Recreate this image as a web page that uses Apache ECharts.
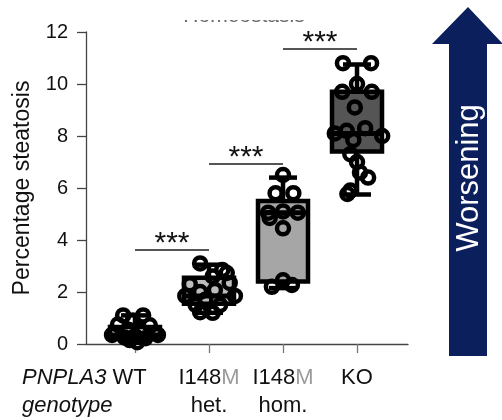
<!DOCTYPE html>
<html><head><meta charset="utf-8">
<script src="https://cdn.jsdelivr.net/npm/echarts@6/dist/echarts.min.js"></script>
<style>html,body{margin:0;padding:0;background:#fff}#c{width:502px;height:420px}</style>
</head><body><div id="c"></div>
<script>
// ---- data ----
const categories = ['WT', 'I148M het.', 'I148M hom.', 'KO'];
const labelLine2 = ['', 'het.', 'hom.', ''];
const yTicks = [0, 2, 4, 6, 8, 10, 12];
// [min, Q1, median, Q3, max]
const boxStats = [
  [0.05, 0.2, 0.35, 0.65, 1.1],
  [1.2, 1.55, 1.85, 2.55, 3.05],
  [2.15, 2.4, 5.05, 5.5, 6.4],
  [5.75, 7.4, 8.1, 9.7, 10.75]
];
const wtValues  = [1.1, 1.1, 0.9, 0.75, 0.72, 0.55, 0.52, 0.35, 0.35, 0.25, 0.3, 0.22, 0.07, 0.15];
const wtJitter  = [-0.16, 0.11, -0.03, -0.23, 0.2, -0.09, 0.07, -0.31, 0.31, -0.14, 0, 0.14, 0.03, -0.07];
const hetValues = [3.1, 2.85, 2.73, 2.6, 2.3, 2.35, 1.85, 1.85, 2.0, 2.08, 1.7, 1.5, 1.5, 1.22, 1.2];
const hetJitter = [-0.12, 0.18, 0.24, 0.05, -0.26, 0.28, -0.32, 0.35, -0.12, 0.08, -0.05, -0.18, 0.15, -0.12, 0.05];
const homValues = [6.5, 5.8, 5.8, 5.05, 5.05, 5.1, 4.85, 4.45, 2.2, 2.27, 2.45];
const homJitter = [0, -0.1, 0.14, -0.2, 0.2, 0, -0.18, 0, -0.15, 0.12, 0];
const koValues  = [10.8, 10.8, 10.0, 9.7, 9.7, 9.1, 8.2, 8.3, 8.1, 8.0, 7.85, 7.3, 7.0, 6.6, 6.4, 5.9, 5.77];
const koJitter  = [-0.19, 0.19, 0, -0.2, 0.2, -0.03, -0.14, 0.11, -0.3, 0.34, -0.05, -0.09, 0, 0.04, 0.15, -0.09, -0.13];
const sigPairs  = [[0, 1, 3.62], [1, 2, 6.92], [2, 3, 11.35]];
const sigLabels = ['***', '***', '***'];
const boxFill = ['#d8d8d8', '#bdbdbd', '#a6a6a6', '#555555'];

const groups = [[wtValues, wtJitter], [hetValues, hetJitter], [homValues, homJitter], [koValues, koJitter]];
const points = [];
groups.forEach((g, i) => g[0].forEach((v, k) => points.push([i + g[1][k], v])));

const FONT = 'Liberation Sans';
const chart = echarts.init(document.getElementById('c'));
chart.setOption({
  animation: false,
  textStyle: { fontFamily: FONT },
  grid: { left: 86, right: 94, top: 32, bottom: 76, containLabel: false },
  xAxis: {
    type: 'value', min: -0.662, max: 3.689,
    axisLine: { show: true, onZero: false, lineStyle: { color: '#444', width: 1.3 } },
    axisTick: { show: true, customValues: [0, 1, 2, 3], length: 9, lineStyle: { color: '#777', width: 1.3 } },
    splitLine: { show: false },
    axisLabel: {
      customValues: [1, 2, 3], margin: 20,
      formatter: v => v === 3 ? '{a|KO}\n{a| }' : '{a|I148}{m|M}\n{a|' + labelLine2[v] + '}',
      rich: {
        a: { fontSize: 22, color: '#111', lineHeight: 28, fontFamily: FONT },
        m: { fontSize: 22, color: '#9a9a9a', lineHeight: 28, fontFamily: FONT }
      }
    }
  },
  yAxis: {
    type: 'value', min: 0, max: 12, interval: 2,
    name: 'Percentage steatosis', nameLocation: 'middle', nameGap: 52,
    nameTextStyle: { fontSize: 23, color: '#111', fontFamily: FONT },
    axisLine: { show: true, onZero: false, lineStyle: { color: '#444', width: 1.3 } },
    axisTick: { show: true, length: 9, lineStyle: { color: '#444', width: 1.3 } },
    splitLine: { show: false },
    axisLabel: { fontSize: 20, color: '#111', margin: 18, formatter: v => yTicks.includes(v) ? String(v) : '' }
  },
  series: [
    {
      type: 'custom', z: 2,
      data: boxStats.map((s, i) => [i].concat(s)),
      encode: { x: 0, y: [1, 2, 3, 4, 5] },
      renderItem: (params, api) => {
        const x = api.value(0);
        const y = [1, 2, 3, 4, 5].map(d => api.coord([x, api.value(d)])[1]);
        const cx = api.coord([x, 0])[0];
        const half = 25, cap = 14, st = { stroke: '#000', lineWidth: 4.5 };
        return { type: 'group', children: [
          { type: 'line', shape: { x1: cx, y1: y[4], x2: cx, y2: y[3] }, style: st },
          { type: 'line', shape: { x1: cx, y1: y[0], x2: cx, y2: y[1] }, style: st },
          { type: 'line', shape: { x1: cx - cap, y1: y[4], x2: cx + cap, y2: y[4] }, style: st },
          { type: 'line', shape: { x1: cx - cap, y1: y[0], x2: cx + cap, y2: y[0] }, style: st },
          { type: 'rect', shape: { x: cx - half, y: y[3], width: 2 * half, height: y[1] - y[3] },
            style: { fill: boxFill[params.dataIndex], stroke: '#000', lineWidth: 4.5 } },
          { type: 'line', shape: { x1: cx - half, y1: y[2], x2: cx + half, y2: y[2] }, style: { stroke: '#000', lineWidth: 5 } }
        ] };
      }
    },
    {
      type: 'scatter', z: 3, data: points, symbol: 'circle', symbolSize: 12,
      itemStyle: { color: 'rgba(0,0,0,0)', borderColor: '#000', borderWidth: 4.5, opacity: 1 }
    },
    {
      type: 'custom', z: 4,
      data: sigPairs,
      encode: { x: [0, 1], y: 2 },
      renderItem: (params, api) => {
        const a = api.coord([api.value(0), api.value(2)]);
        const b = api.coord([api.value(1), api.value(2)]);
        return { type: 'group', children: [
          { type: 'line', shape: { x1: a[0], y1: a[1], x2: b[0], y2: b[1] }, style: { stroke: '#555', lineWidth: 2 } },
          { type: 'text', style: { text: sigLabels[params.dataIndex], x: (a[0] + b[0]) / 2, y: a[1] - 6,
            align: 'center', verticalAlign: 'middle', fontSize: 30, fill: '#111', fontFamily: FONT } }
        ] };
      }
    }
  ],
  graphic: [
    { type: 'text', z: 10, style: { text: 'Homeostasis', x: 244, y: 27, align: 'center', verticalAlign: 'bottom', fontSize: 21, fill: '#666', fontFamily: FONT } },
    { type: 'rect', z: 11, shape: { x: 160, y: 0, width: 170, height: 20 }, style: { fill: '#fff' } },
    { type: 'text', style: { text: '{i|PNPLA3} WT', x: 22, y: 378, align: 'left', verticalAlign: 'middle',
        rich: { i: { fontStyle: 'italic', fontSize: 22, fill: '#111', fontFamily: FONT } }, fontSize: 22, fill: '#111', fontFamily: FONT } },
    { type: 'text', style: { text: 'genotype', x: 22, y: 406, align: 'left', verticalAlign: 'middle', fontStyle: 'italic', fontSize: 22, fill: '#111', fontFamily: FONT } },
    { type: 'polygon', shape: { points: [[468, 7], [432, 44], [449, 44], [449, 356], [487, 356], [487, 44], [503, 44]] }, style: { fill: '#0a1f5c' } },
    { type: 'text', rotation: Math.PI / 2, x: 469, y: 178, style: { text: 'Worsening', x: 0, y: 0, align: 'center', verticalAlign: 'middle', fontSize: 31, fill: '#fff', fontFamily: FONT } }
  ]
});
</script></body></html>
